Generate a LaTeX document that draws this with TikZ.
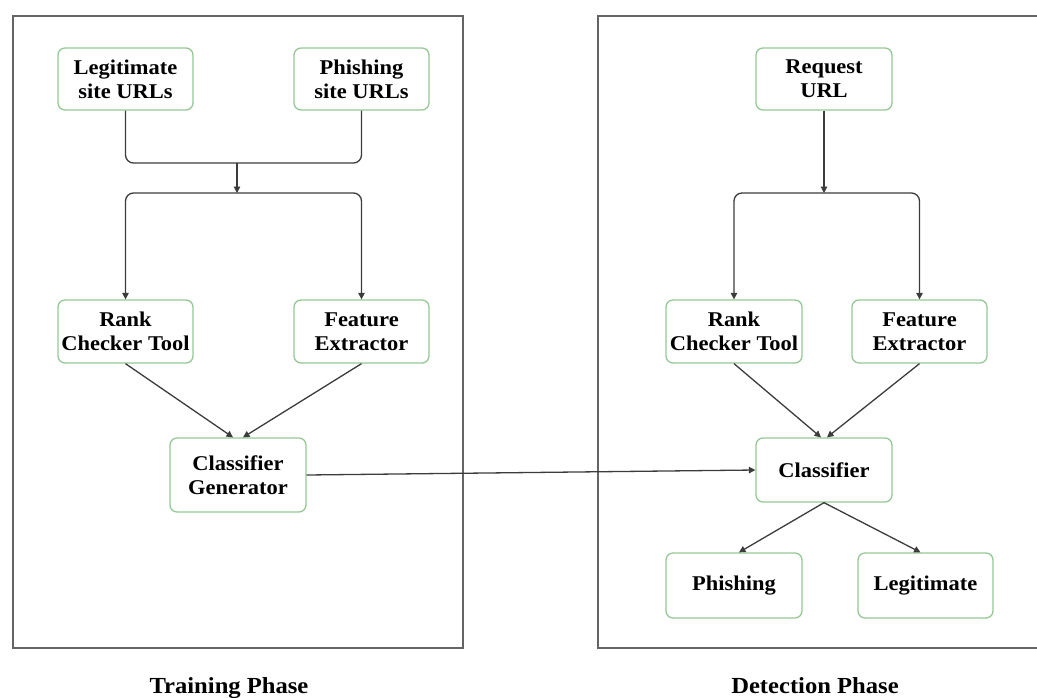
\documentclass[tikz,border=0pt]{standalone}
\usepackage{fontspec}
\setmainfont[FakeStretch=1.07]{Liberation Serif}
\usetikzlibrary{arrows.meta}
\definecolor{boxgreen}{RGB}{150,200,150}
\definecolor{framegray}{RGB}{100,100,100}
\definecolor{linegray}{RGB}{60,60,60}
\tikzset{
  procbox/.style={draw=boxgreen, line width=1.3pt, rounded corners=7pt, fill=white,
    align=center, inner sep=0pt, minimum width=135pt, minimum height=62pt,
    font=\fontsize{21}{24}\selectfont\bfseries},
  conn/.style={draw=linegray, line width=1.3pt},
  arr/.style={conn, -{Triangle[length=6.5pt,width=6.5pt]}},
  frame/.style={draw=framegray, line width=2pt},
  phase/.style={font=\fontsize{23}{26}\selectfont\bfseries, anchor=base, inner sep=0pt}
}
\begin{document}
\begin{tikzpicture}[x=1pt,y=-1pt]
\useasboundingbox (0,0) rectangle (1037,697);
\begin{scope}
\clip (0,0) rectangle (1037,697);
\draw[frame] (12.7,15.7) rectangle (463,648);
\draw[frame] (598,15.7) rectangle (1050,648);
\end{scope}

% Training phase
\node[procbox] (leg) at (125.5,79) {Legitimate\\site URLs};
\node[procbox] (phi) at (361.5,79) {Phishing\\site URLs};
\node[procbox, minimum height=63pt] (rk1) at (125.5,331.5) {Rank\\Checker Tool};
\node[procbox, minimum height=63pt] (fe1) at (361.5,331.5) {Feature\\Extractor};
\node[procbox, minimum width=136pt, minimum height=74pt] (gen) at (238,475) {Classifier\\Generator};

\coordinate (m1) at (237,163);
\coordinate (s1) at (237,193);
\draw[conn, rounded corners=8pt] (leg.south) |- (m1);
\draw[conn, rounded corners=8pt] (phi.south) |- (m1);
\draw[arr] (m1) -- (s1);
\draw[arr, rounded corners=8pt] (s1) -| (rk1.north);
\draw[arr, rounded corners=8pt] (s1) -| (fe1.north);
\draw[arr] (rk1.south) -- ([xshift=-5pt]gen.north);
\draw[arr] (fe1.south) -- ([xshift=5pt]gen.north);

% Detection phase
\node[procbox, minimum width=136pt] (req) at (824,79) {Request\\URL};
\node[procbox, minimum width=136pt, minimum height=63pt] (rk2) at (734,331.5) {Rank\\Checker Tool};
\node[procbox, minimum height=63pt] (fe2) at (919.5,331.5) {Feature\\Extractor};
\node[procbox, minimum width=136pt, minimum height=64pt] (cls) at (824,470) {Classifier};
\node[procbox, minimum width=136pt, minimum height=65pt] (ph) at (734,585.5) {Phishing};
\node[procbox, minimum height=65pt] (lg) at (925.5,585.5) {Legitimate};

\coordinate (s2) at (824,193);
\draw[arr] (req.south) -- (s2);
\draw[arr, rounded corners=8pt] (s2) -| (rk2.north);
\draw[arr, rounded corners=8pt] (s2) -| (fe2.north);
\draw[arr] (rk2.south) -- ([xshift=-3pt]cls.north);
\draw[arr] (fe2.south) -- ([xshift=3pt]cls.north);
\draw[arr] (cls.south) -- ([xshift=5pt]ph.north);
\draw[arr] (cls.south) -- ([xshift=-5pt]lg.north);

\draw[arr] (gen.east) -- (cls.west);

\node[phase] (tp) at (229,693) {Training Phase};
\node[phase] (dp) at (815,693) {Detection Phase};
\end{tikzpicture}
\end{document}
